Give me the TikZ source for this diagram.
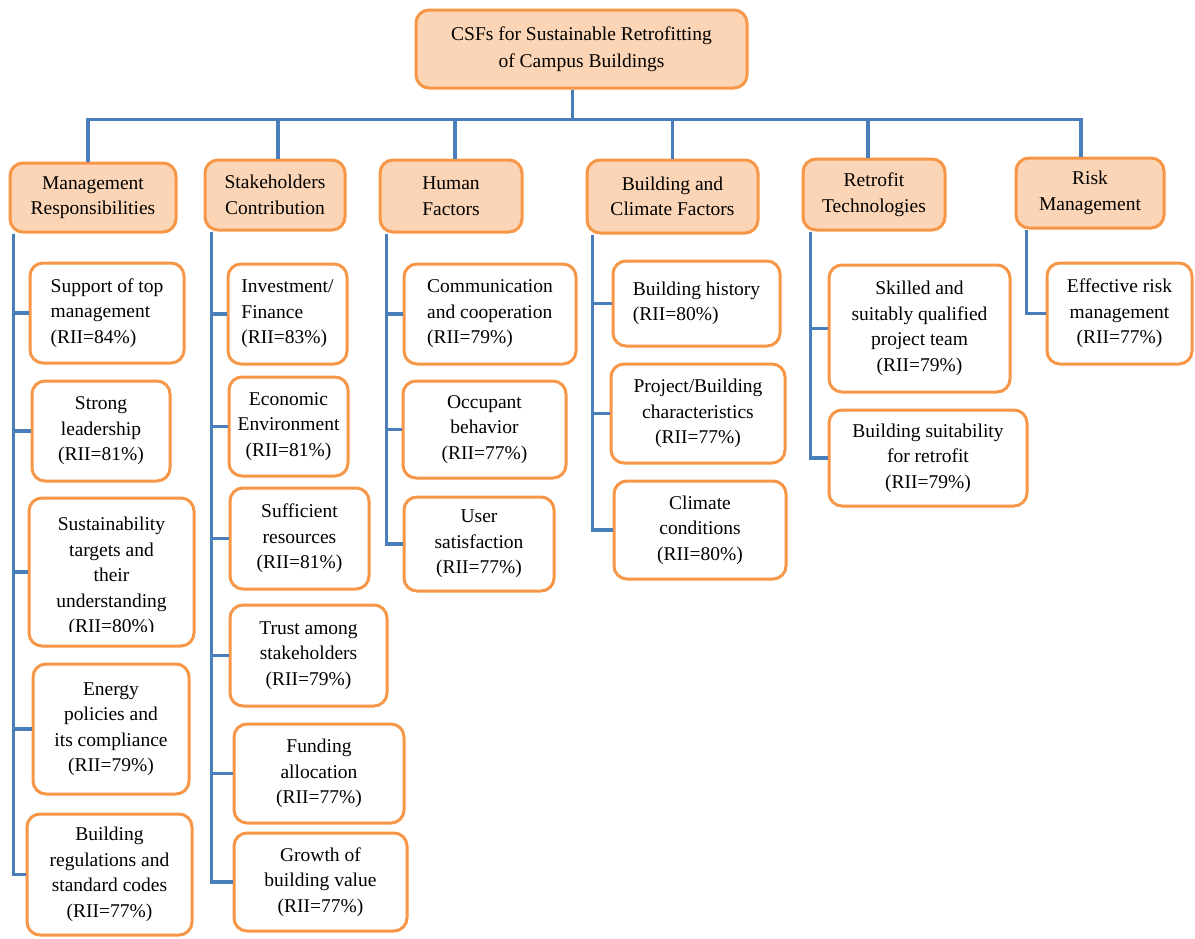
\documentclass[tikz,border=0pt]{standalone}
\usepackage{fontspec}
\setmainfont{LiberationSerif}[Extension=.ttf, UprightFont=*-Regular, BoldFont=*-Bold]
\definecolor{boxline}{HTML}{F79646}
\definecolor{boxfill}{HTML}{FBD5B5}
\definecolor{linkblue}{HTML}{4A7EBB}
\begin{document}
\begin{tikzpicture}[x=1pt, y=-1pt,
  box/.style={draw=boxline, line width=3pt, rounded corners=13pt, align=center, inner sep=0pt, font=\fontsize{19.5}{25.5}\selectfont},
  head/.style={box, fill=boxfill},
  leaf/.style={box, fill=white},
  link/.style={draw=linkblue, line width=3.5pt}]
\useasboundingbox (0,0) rectangle (1195,938);
\node[head, minimum width=331pt, minimum height=78pt, font=\fontsize{19.5}{27}\selectfont] (root) at (581.5,49) {CSFs for Sustainable Retrofitting\\of Campus Buildings};
\node[head, minimum width=166pt, minimum height=69pt] (mr) at (93,197.5) {Management\\Responsibilities};
\node[head, minimum width=140pt, minimum height=70pt] (sc) at (275,195) {Stakeholders\\Contribution};
\node[head, minimum width=142pt, minimum height=72pt] (hf) at (451,196) {Human\\Factors};
\node[head, minimum width=171pt, minimum height=73pt] (bc) at (672.5,196.5) {Building and\\Climate Factors};
\node[head, minimum width=142pt, minimum height=71pt] (rt) at (874,194.5) {Retrofit\\Technologies};
\node[head, minimum width=148pt, minimum height=70pt] (rm) at (1090,193) {Risk\\Management};
\node[leaf, align=left, minimum width=154pt, minimum height=100pt] (m1) at (107,313) {Support of top\\management\\(RII=84\%)};
\node[leaf, minimum width=138pt, minimum height=100pt] (m2) at (101,431) {Strong\\leadership\\(RII=81\%)};
\begin{scope}
\clip (29,498) rectangle (194,631);
\node[box, draw=none] (m3t) at (111.5,577) {Sustainability\\targets and\\their\\understanding\\(RII=80\%)};
\end{scope}
\node[leaf, fill=none, minimum width=165pt, minimum height=148pt] (m3) at (111.5,572) {};
\node[leaf, minimum width=156pt, minimum height=130pt] (m4) at (111,729) {Energy\\policies and\\its compliance\\(RII=79\%)};
\node[leaf, minimum width=165pt, minimum height=121pt] (m5) at (109.5,874.5) {Building\\regulations and\\standard codes\\(RII=77\%)};
\node[leaf, align=left, minimum width=119pt, minimum height=100pt] (s1) at (287.5,314) {Investment/\\Finance\\(RII=83\%)};
\node[leaf, minimum width=119pt, minimum height=99pt] (s2) at (288.5,426.5) {Economic\\Environment\\(RII=81\%)};
\node[leaf, minimum width=139pt, minimum height=101pt] (s3) at (299.5,538.5) {Sufficient\\resources\\(RII=81\%)};
\node[leaf, minimum width=157pt, minimum height=101pt] (s4) at (308.5,655.5) {Trust among\\stakeholders\\(RII=79\%)};
\node[leaf, minimum width=170pt, minimum height=99pt] (s5) at (319,773.5) {Funding\\allocation\\(RII=77\%)};
\node[leaf, minimum width=173pt, minimum height=98pt] (s6) at (320.5,882) {Growth of\\building value\\(RII=77\%)};
\node[leaf, align=left, minimum width=172pt, minimum height=100pt] (h1) at (490,314) {Communication\\and cooperation\\(RII=79\%)};
\node[leaf, minimum width=163pt, minimum height=97pt] (h2) at (484.5,429.5) {Occupant\\behavior\\(RII=77\%)};
\node[leaf, minimum width=150pt, minimum height=94pt] (h3) at (479,544) {User\\satisfaction\\(RII=77\%)};
\node[leaf, align=left, minimum width=167pt, minimum height=85pt] (b1) at (696.5,303.5) {Building history\\(RII=80\%)};
\node[leaf, minimum width=174pt, minimum height=99pt] (b2) at (698,413.5) {Project/Building\\characteristics\\(RII=77\%)};
\node[leaf, minimum width=172pt, minimum height=98pt] (b3) at (700,530) {Climate\\conditions\\(RII=80\%)};
\node[leaf, minimum width=181pt, minimum height=127pt] (r1) at (919.5,328.5) {Skilled and\\suitably qualified\\project team\\(RII=79\%)};
\node[leaf, minimum width=198pt, minimum height=96pt] (r2) at (928,458) {Building suitability\\for retrofit\\(RII=79\%)};
\node[leaf, minimum width=145pt, minimum height=101pt] (k1) at (1119.5,313.5) {Effective risk\\management\\(RII=77\%)};
\draw[link] ([xshift=-9pt]root.south) -- ++(0,30) -| ([xshift=-5pt]mr.north);
\draw[link] ([xshift=-9pt]root.south) -- ++(0,30) -| ([xshift=3pt]sc.north);
\draw[link] ([xshift=-9pt]root.south) -- ++(0,30) -| ([xshift=4pt]hf.north);
\draw[link] ([xshift=-9pt]root.south) -- ++(0,30) -| (bc.north);
\draw[link] ([xshift=-9pt]root.south) -- ++(0,30) -| ([xshift=-6pt]rt.north);
\draw[link] ([xshift=-9pt]root.south) -- ++(0,30) -| ([xshift=-9pt]rm.north);
\draw[link] ([xshift=5pt]mr.south west) |- (m1.west);
\draw[link] ([xshift=5pt]mr.south west) |- (m2.west);
\draw[link] ([xshift=5pt]mr.south west) |- (m3.west);
\draw[link] ([xshift=5pt]mr.south west) |- (m4.west);
\draw[link] ([xshift=5pt]mr.south west) |- (m5.west);
\draw[link] ([xshift=8pt]sc.south west) |- (s1.west);
\draw[link] ([xshift=8pt]sc.south west) |- (s2.west);
\draw[link] ([xshift=8pt]sc.south west) |- (s3.west);
\draw[link] ([xshift=8pt]sc.south west) |- (s4.west);
\draw[link] ([xshift=8pt]sc.south west) |- (s5.west);
\draw[link] ([xshift=8pt]sc.south west) |- (s6.west);
\draw[link] ([xshift=8pt]hf.south west) |- (h1.west);
\draw[link] ([xshift=8pt]hf.south west) |- (h2.west);
\draw[link] ([xshift=8pt]hf.south west) |- (h3.west);
\draw[link] ([xshift=7pt]bc.south west) |- (b1.west);
\draw[link] ([xshift=7pt]bc.south west) |- (b2.west);
\draw[link] ([xshift=7pt]bc.south west) |- (b3.west);
\draw[link] ([xshift=9pt]rt.south west) |- (r1.west);
\draw[link] ([xshift=9pt]rt.south west) |- (r2.west);
\draw[link] ([xshift=12pt]rm.south west) |- (k1.west);
\end{tikzpicture}
\end{document}
